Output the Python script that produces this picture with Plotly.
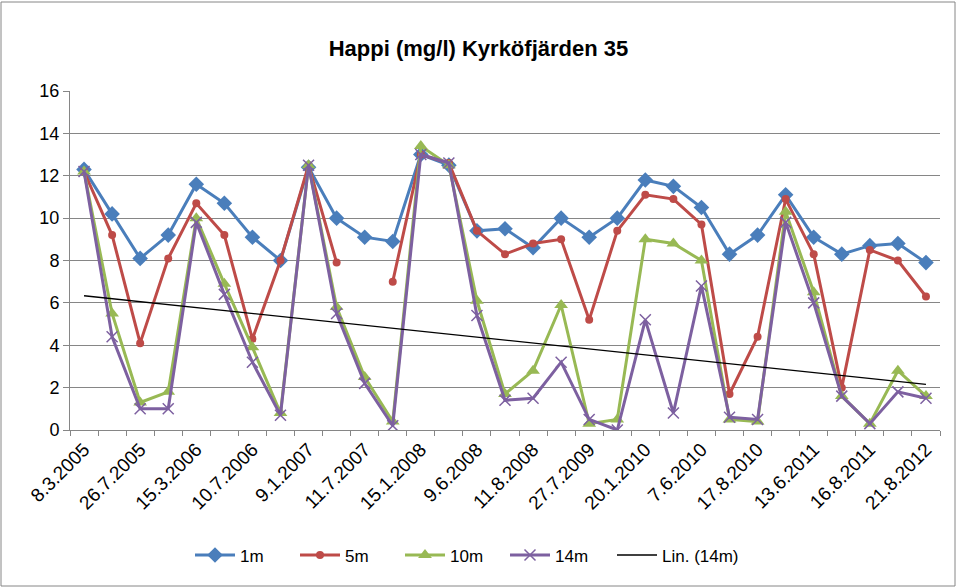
import numpy as np
import plotly.graph_objects as go

labels = ["8.3.2005", "26.7.2005", "15.3.2006", "10.7.2006", "9.1.2007", "11.7.2007",
          "15.1.2008", "9.6.2008", "11.8.2008", "27.7.2009", "20.1.2010", "7.6.2010",
          "17.8.2010", "13.6.2011", "16.8.2011", "21.8.2012"]
n_points = 31

m1 = [12.3, 10.2, 8.1, 9.2, 11.6, 10.7, 9.1, 8.0, 12.4, 10.0, 9.1, 8.9, 13.0, 12.5, 9.4, 9.5,
      8.6, 10.0, 9.1, 10.0, 11.8, 11.5, 10.5, 8.3, 9.2, 11.1, 9.1, 8.3, 8.7, 8.8, 7.9]
m5 = [12.2, 9.2, 4.1, 8.1, 10.7, 9.2, 4.3, 8.0, 12.5, 7.9, None, 7.0, 13.0, 12.6, 9.4, 8.3,
      8.8, 9.0, 5.2, 9.4, 11.1, 10.9, 9.7, 1.7, 4.4, 10.9, 8.3, 2.0, 8.5, 8.0, 6.3]
m10 = [12.2, 5.5, 1.3, 1.8, 10.0, 6.9, 3.9, 0.8, 12.5, 5.8, 2.5, 0.4, 13.4, 12.5, 6.1, 1.7,
       2.8, 5.9, 0.3, 0.5, 9.0, 8.8, 8.0, 0.5, 0.4, 10.3, 6.5, 1.6, 0.3, 2.8, 1.6]
m14 = [12.2, 4.4, 1.0, 1.0, 9.8, 6.4, 3.2, 0.7, 12.5, 5.5, 2.2, 0.2, 13.0, 12.6, 5.4, 1.4,
       1.5, 3.2, 0.5, 0.0, 5.2, 0.8, 6.8, 0.6, 0.5, 9.8, 6.0, 1.6, 0.3, 1.8, 1.5]

x = list(range(n_points))
coef = np.polyfit(np.arange(1, n_points + 1), np.array(m14, dtype=float), 1)
trend = list(np.polyval(coef, np.arange(1, n_points + 1)))

fig = go.Figure()
fig.add_trace(go.Scatter(x=x, y=m1, name="1m", mode="lines+markers",
                         line=dict(color="#4A7EBB", width=3),
                         marker=dict(symbol="diamond", size=12, color="#4A7EBB")))
fig.add_trace(go.Scatter(x=x, y=m5, name="5m", mode="lines+markers",
                         line=dict(color="#BE4B48", width=3),
                         marker=dict(symbol="circle", size=8, color="#BE4B48")))
fig.add_trace(go.Scatter(x=x, y=m10, name="10m", mode="lines+markers",
                         line=dict(color="#98B954", width=3),
                         marker=dict(symbol="triangle-up", size=12, color="#98B954")))
fig.add_trace(go.Scatter(x=x, y=m14, name="14m", mode="lines+markers",
                         line=dict(color="#7D60A0", width=3),
                         marker=dict(symbol="x-thin", size=11,
                                     line=dict(color="#7D60A0", width=1.5))))
fig.add_trace(go.Scatter(x=x, y=trend, name="Lin. (14m)", mode="lines", legend="legend2",
                         line=dict(color="black", width=1.3)))

font_family = "Liberation Sans, Arial"
fig.update_layout(
    width=957, height=588,
    margin=dict(l=70, r=17, t=91, b=158),
    paper_bgcolor="white", plot_bgcolor="white",
    font=dict(family=font_family, size=16, color="black"),
    title=dict(text="<b>Happi (mg/l) Kyrköfjärden 35</b>", x=0.5, xanchor="center",
               y=1 - 48 / 588, yanchor="middle", font=dict(size=22)),
    showlegend=True,
    legend=dict(orientation="h", x=(190 - 70) / 870, xanchor="left", y=-0.37,
                yanchor="middle", font=dict(size=17), itemwidth=40, tracegroupgap=0,
                entrywidth=50),
    legend2=dict(orientation="h", x=(612 - 70) / 870, xanchor="left", y=-0.37,
                 yanchor="middle", font=dict(size=17), itemwidth=40, tracegroupgap=0),
    xaxis=dict(range=[-0.5, n_points - 0.5], tickmode="array",
               tickvals=list(range(0, n_points, 2)), ticktext=labels,
               tickangle=-45, ticks="", showgrid=False, zeroline=False,
               showline=True, linecolor="#868686", linewidth=1,
               tickfont=dict(size=19),
               minor=dict(tickmode="linear", tick0=-0.5, dtick=1, ticks="outside",
                          ticklen=5, tickcolor="#868686", showgrid=False)),
    yaxis=dict(range=[0, 16], dtick=2, showgrid=True, gridcolor="#868686", gridwidth=1,
               zeroline=False, showline=True, linecolor="#868686", linewidth=1,
               ticks="outside", ticklen=6, tickcolor="#868686", tickfont=dict(size=18)),
)

# outer chart frame
fig.add_shape(type="rect", xref="paper", yref="paper",
              x0=-69 / 870, x1=1 + 15 / 870, y0=-156 / 339, y1=1 + 89 / 339,
              line=dict(color="#868686", width=1))

fig.write_html("out.html", config={"displayModeBar": False},
               post_script="document.body.style.margin='0px';")
